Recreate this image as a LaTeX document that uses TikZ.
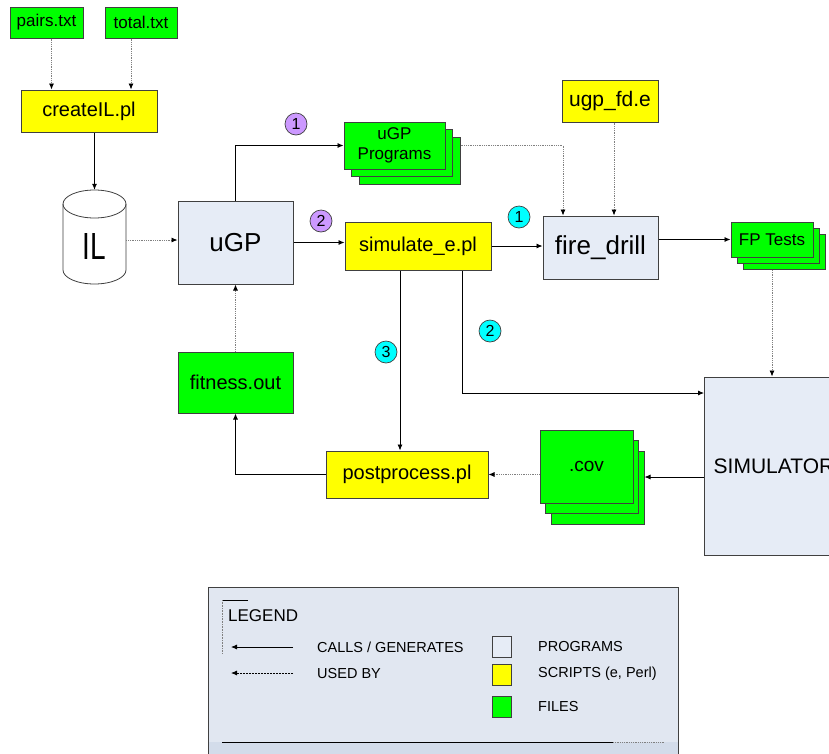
\documentclass[tikz,border=0pt]{standalone}
\usepackage{fontspec}
\usepackage{graphicx}
\setmainfont{Liberation Sans}
\usetikzlibrary{arrows.meta,calc}
\definecolor{progc}{HTML}{E6ECF6}
\definecolor{fgreen}{HTML}{00FF00}
\definecolor{fyellow}{HTML}{FFFF00}
\definecolor{bord}{HTML}{404040}
\definecolor{purp}{HTML}{CC99FF}
\definecolor{cyanc}{HTML}{00FFFF}
\definecolor{legbg}{HTML}{E1E7F1}
\definecolor{legdark}{HTML}{D3DCEA}
\newcommand\fsz[1]{\fontsize{#1}{#1}\selectfont}
\tikzset{
 base/.style={draw=bord, line width=1pt, inner sep=0pt, align=center, text=black},
 file/.style={base, fill=fgreen},
 script/.style={base, fill=fyellow},
 program/.style={base, fill=progc},
 call/.style={draw=black, line width=0.8pt, -{Latex[length=6pt,width=5pt]}},
 used/.style={draw=gray, line width=0.8pt, densely dotted, -{Latex[length=6pt,width=5pt,color=black]}},
 num/.style={circle, draw=bord, line width=0.7pt, minimum size=22pt, inner sep=0pt, font=\fsz{16}},
 legtext/.style={anchor=west, font=\fsz{14.5}, inner sep=0pt},
 swatch/.style={draw=bord, line width=0.8pt, minimum width=19pt, minimum height=21pt, inner sep=0pt},
}
\begin{document}
\begin{tikzpicture}[x=1pt,y=-1pt]
\useasboundingbox (0,0) rectangle (829,753);
\clip (0,0) rectangle (829,753);
\fill[white] (0,0) rectangle (829,753);

% top files and createIL
\node[file, minimum width=73pt, minimum height=31pt, font=\fsz{17}] (pairs) at (46.5,22.5) {pairs.txt};
\node[file, minimum width=72pt, minimum height=31pt, font=\fsz{17}] (total) at (141,22.5) {total.txt};
\node[script, minimum width=136pt, minimum height=42pt, font=\fsz{20}] (createIL) at (89,111) {createIL.pl};

% IL cylinder
\draw[draw=bord, fill=white, line width=0.8pt] (63,204) -- (63,270)
  arc[start angle=180, end angle=360, x radius=31.5pt, y radius=14pt] -- (126,204)
  arc[start angle=0, end angle=180, x radius=31.5pt, y radius=14pt] -- cycle;
\draw[draw=bord, line width=0.8pt] (63,204) arc[start angle=180, end angle=360, x radius=31.5pt, y radius=14pt];
\node[minimum width=63pt, minimum height=94pt, inner sep=0pt] (IL) at (94.5,237) {};
\node[font=\fsz{28}, inner sep=0pt] (ILtext) at (94.5,246) {\scalebox{1}[1.35]{IL}};

% programs
\node[program, minimum width=115pt, minimum height=83pt, font=\fsz{26}] (uGP) at (235.5,242.5) {uGP};
\node[program, minimum width=115pt, minimum height=63pt, font=\fsz{26}] (fire) at (600.5,247.5) {fire\_drill};
\node[program, minimum width=139pt, minimum height=178pt, font=\fsz{21}] (sim) at (774,466) {SIMULATOR};

% scripts
\node[script, minimum width=146pt, minimum height=48pt, font=\fsz{20}] (simulate) at (418,246) {simulate\_e.pl};
\node[script, minimum width=96pt, minimum height=42pt, font=\fsz{21}] (ugpfd) at (610,101) {ugp\_fd.e};
\node[script, minimum width=162pt, minimum height=47pt, font=\fsz{20}] (post) at (407,474.5) {postprocess.pl};

% files
\node[file, minimum width=115pt, minimum height=61pt, font=\fsz{20}] (fitness) at (235.5,382.5) {fitness.out};

\node[file, minimum width=101pt, minimum height=47pt] (prog3) at (409.5,160.5) {};
\node[file, minimum width=101pt, minimum height=47pt] (prog2) at (402,153) {};
\node[file, minimum width=101pt, minimum height=47pt, font=\fontsize{17}{20}\selectfont] (prog) at (394.5,145.5) {uGP\\Programs};

\node[file, minimum width=82pt, minimum height=35pt] (fp3) at (784,252) {};
\node[file, minimum width=82pt, minimum height=35pt] (fp2) at (778,245.75) {};
\node[file, minimum width=82pt, minimum height=35pt, font=\fsz{17}] (fp) at (772,239.5) {FP Tests};

\node[file, minimum width=93pt, minimum height=73pt] (cov3) at (597.5,488) {};
\node[file, minimum width=93pt, minimum height=73pt] (cov2) at (592,477.25) {};
\node[file, minimum width=93pt, minimum height=73pt, font=\fsz{19}] (cov) at (586.5,466.5) {.cov};

% connectors
\draw[used] ([xshift=5pt]pairs.south) -- ([xshift=5pt]pairs.south |- createIL.north);
\draw[used] ([xshift=-10pt]total.south) -- ([xshift=-10pt]total.south |- createIL.north);
\draw[call] (createIL.south -| IL.north) -- (IL.north);
\draw[used] ([yshift=-3pt]IL.east) -- ([yshift=-3pt]IL.east -| uGP.west);
\draw[call] (uGP.north) |- (prog.west);
\draw[call] (uGP.east) -- (uGP.east -| simulate.west);
\draw[used] (prog3.east |- prog.east) -| ([xshift=-37.5pt]fire.north);
\draw[used] ([xshift=4pt]ugpfd.south) -- ([xshift=4pt]ugpfd.south |- fire.north);
\draw[call] (simulate.east) -- (simulate.east -| fire.west);
\draw[call] ([yshift=8pt]fire.east) -- ([yshift=8pt]fire.east -| fp.west);
\draw[used] (fp3.south -| fp.south) -- (fp.south |- sim.north);
\draw[call] ([xshift=44pt]simulate.south) |- ([yshift=73pt]sim.west);
\draw[call] ([xshift=-18pt]simulate.south) -- ([xshift=-18pt]simulate.south |- post.north);
\draw[call] (post.west) -| (fitness.south);
\draw[used] (fitness.north) -- (uGP.south);
\draw[used] (cov.west |- post.east) -- (post.east);
\draw[call] ([yshift=-11pt]sim.west) -- ([yshift=-11pt]sim.west -| cov3.east);

% step numbers
\node[num, fill=purp] (p1) at (296,124) {1};
\node[num, fill=purp] (p2) at (321,221) {2};
\node[num, fill=cyanc] (c1) at (519,217) {1};
\node[num, fill=cyanc] (c2) at (490,331) {2};
\node[num, fill=cyanc] (c3) at (386,352) {3};

% legend
\node[draw=bord, fill=legbg, line width=0.8pt, minimum width=470pt, minimum height=180pt, inner sep=0pt] (legbox) at (443,677) {};
\fill[legdark] (208.5,742) rectangle (677.5,767);
\draw[black, line width=0.8pt] (222,742) -- (613,742);
\draw[gray, densely dotted, line width=0.8pt] (613,742) -- (665,742);
\draw[black, line width=0.8pt] (248,600) -- (222,600);
\draw[gray, densely dotted, line width=0.6pt] (222,600) -- (222,653);
\node[anchor=west, font=\fsz{17}, inner sep=0pt] (legt) at (228,616) {LEGEND};
\coordinate (la1) at (293,647);
\coordinate (la2) at (293,673);
\draw[call] (la1) -- ++(-62,0);
\draw[used, draw=black, dash pattern=on 2pt off 1pt] (la2) -- ++(-62,0);
\node[legtext] (l1) at (317,647) {CALLS / GENERATES};
\node[legtext] (l2) at (317,673) {USED BY};
\node[swatch, fill=progc] (s1) at (501.5,646.5) {};
\node[swatch, fill=fyellow] (s2) at (501.5,675) {};
\node[swatch, fill=fgreen] (s3) at (501.5,706.5) {};
\node[legtext] (t1) at (538,646) {PROGRAMS};
\node[legtext] (t2) at (538,674) {SCRIPTS (e, Perl)};
\node[legtext] (t3) at (538,706) {FILES};
\end{tikzpicture}
\end{document}
